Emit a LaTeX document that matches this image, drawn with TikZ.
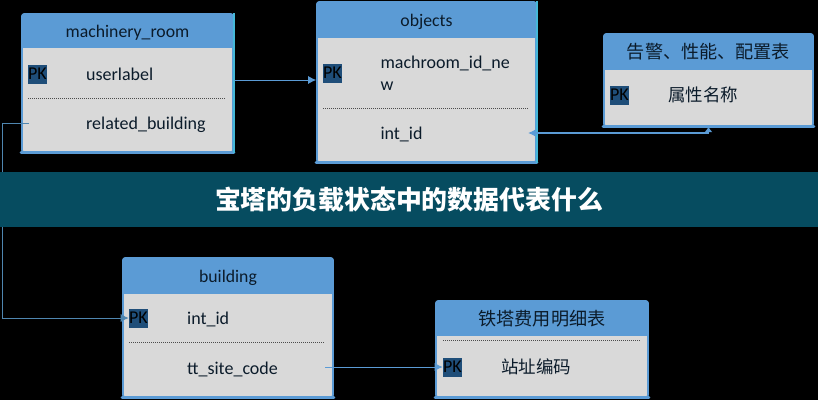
\documentclass[tikz,border=0pt]{standalone}
\usepackage{fontspec}
\setmainfont{Carlito}
\newfontfamily\cjk{Noto Sans CJK SC}
\newfontfamily\cjkbold{Noto Sans CJK SC Black}
\usetikzlibrary{arrows.meta}
\usetikzlibrary{positioning}
\definecolor{headblue}{HTML}{5B9BD5}
\definecolor{bodygrey}{HTML}{D9D9D9}
\definecolor{inkdark}{HTML}{0B1B2A}
\definecolor{pkblue}{HTML}{1F4E79}
\definecolor{bandteal}{HTML}{064C60}
\definecolor{edgecyan}{HTML}{45B8D8}
\definecolor{linkdim}{HTML}{4F86B0}
\tikzset{
	entity/.style={draw=headblue,fill=bodygrey,line width=1.2pt,rounded corners=1.5pt,inner sep=0pt},
	header/.style={fill=headblue,inner sep=0pt,text=inkdark,font=\fontsize{13.3}{15}\selectfont,text height=9pt,text depth=0pt},
	cjkheader/.style={fill=headblue,inner sep=0pt,text=inkdark,font=\cjk\fontsize{13.6}{15}\selectfont},
	field/.style={inner sep=0pt,text=inkdark,font=\fontsize{13.5}{16.5}\selectfont,align=left},
	oneline/.style={text height=9pt,text depth=0pt},
	cjkfield/.style={inner sep=0pt,text=inkdark,font=\cjk\fontsize{13.1}{15}\selectfont},
	pk/.style={fill=pkblue,inner sep=0pt,minimum width=14.25pt,minimum height=14.25pt,text=black,font=\fontsize{13.5}{15}\selectfont},
	sep/.style={gray!60!black,line width=.5pt,densely dotted},
	bottomedge/.style={headblue,line width=2.2pt,line cap=round},
	rightedge/.style={edgecyan,line width=1.2pt},
	link/.style={headblue,line width=.75pt,-{Latex[length=6pt,width=6pt]}}
}
\begin{document}
\begin{tikzpicture}[x=.75pt,y=-.75pt]
	\useasboundingbox (0,0) rectangle (818,400);
	\fill[black] (0,0) rectangle (818,400);

	% machinery_room
	\node[entity,minimum width=211*.75pt,minimum height=138*.75pt] (room) at (127.5,83) {};
	\node[header,minimum width=209*.75pt,minimum height=34*.75pt] (roomhead) at (127.5,31) {machinery\_room};
	\node[pk] (roompk) at (37.5,74) {PK};
	\node[field,oneline,right = 29pt of roompk] (userlabel) {userlabel};
	\node[field,oneline,anchor=west] (related) at (userlabel.west |- 0,123) {related\_building};
	\draw[sep] (28,98) -- (225,98);
	\draw[bottomedge] (room.south west) -- (room.south east);
	\draw[rightedge] (room.north east) -- (room.south east);

	% objects
	\node[entity,minimum width=219*.75pt,minimum height=160*.75pt] (objects) at (426.5,82) {};
	\node[header,minimum width=217*.75pt,minimum height=35*.75pt] (objectshead) at (426.5,20) {objects};
	\node[pk] (objectspk) at (332.5,73) {PK};
	\node[field,right = 28.5pt of objectspk] (machroom) {machroom\_id\_ne\\w};
	\node[field,oneline,anchor=west] (objectsid) at (machroom.west |- 0,133) {int\_id};
	\draw[sep] (323,108) -- (528,108);
	\draw[bottomedge] (objects.south west) -- (objects.south east);
	\draw[rightedge] (objects.north east) -- (objects.south east);

	% alarm table
	\node[entity,minimum width=209*.75pt,minimum height=92*.75pt] (alarm) at (708.5,80) {};
	\node[cjkheader,minimum width=207*.75pt,minimum height=35*.75pt] (alarmhead) at (708.5,52) {告警、性能、配置表};
	\node[pk] (alarmpk) at (619.5,95) {PK};
	\node[cjkfield,right = 29pt of alarmpk] (attr) {属性名称};
	\draw[bottomedge] (alarm.south west) -- (alarm.south east);

	% building
	\node[entity,minimum width=210*.75pt,minimum height=139*.75pt] (building) at (228,327.5) {};
	\node[header,minimum width=208*.75pt,minimum height=35*.75pt] (buildinghead) at (228,276) {building};
	\node[pk] (buildingpk) at (138.5,318) {PK};
	\node[field,oneline,right = 29pt of buildingpk] (buildingid) {int\_id};
	\node[field,oneline,anchor=west] (sitecode) at (buildingid.west |- 0,368) {tt\_site\_code};
	\draw[sep] (129,342) -- (325,342);
	\draw[bottomedge] (building.south west) -- (building.south east);

	% fee table
	\node[entity,minimum width=212*.75pt,minimum height=96*.75pt] (fee) at (542,349) {};
	\node[cjkheader,minimum width=210*.75pt,minimum height=34*.75pt] (feehead) at (542,319) {铁塔费用明细表};
	\node[pk] (feepk) at (452.5,367) {PK};
	\node[cjkfield,right = 29pt of feepk] (sitename) {站址编码};
	\draw[sep] (443,340.5) -- (640,340.5);
	\draw[bottomedge] (fee.south west) -- (fee.south east);

	% links
	\coordinate (roomout) at (room.east |- 0,80);
	\coordinate (objectsin) at (objects.west |- 0,80);
	\coordinate (relatedout) at (29,123);
	\coordinate (leftrail) at (2,123);
	\coordinate (buildingout) at (325,367);
	\coordinate (idin) at (528,133);
	\coordinate (alarmturn) at (alarm.south |- 0,133);
	\draw[link] (roomout) -- (objectsin);
	\draw[link,linkdim] (relatedout) -- (leftrail) |- (buildingpk.west);
	\draw[link] (buildingout) -- (feepk.west);
	\draw[link,line width=1.1pt] (alarmturn) -- (idin);
	\draw[headblue,line width=1.1pt,-{Latex[length=4pt,width=6pt]}] (alarmturn) -- (alarm.south);

	% band
	\node[fill=bandteal,minimum width=818*.75pt,minimum height=55*.75pt,inner sep=0pt,text=white,font=\cjkbold\fontsize{19.4}{22}\selectfont] (band) at (409,199.5) {宝塔的负载状态中的数据代表什么};
\end{tikzpicture}
\end{document}
